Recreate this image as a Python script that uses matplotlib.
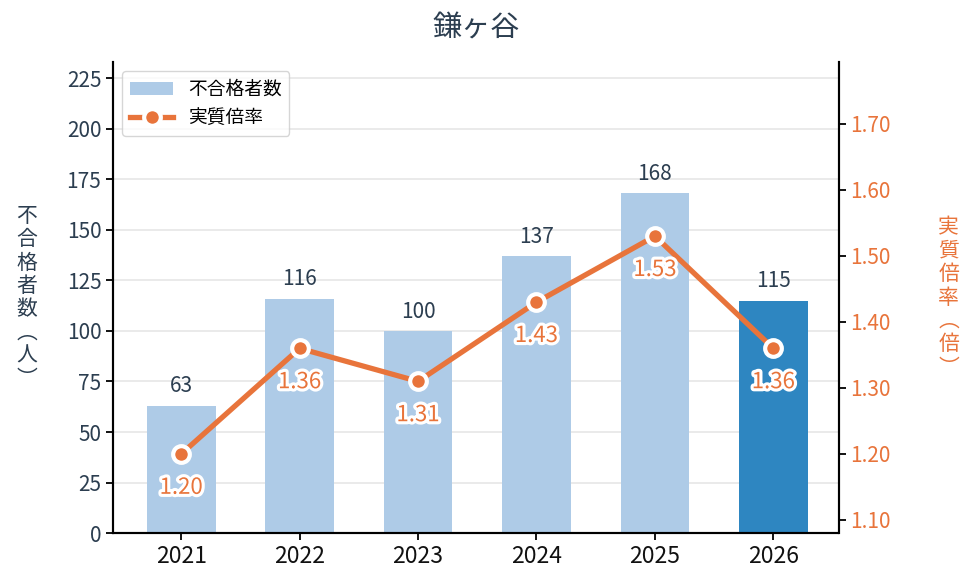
import numpy as np
import matplotlib
matplotlib.use("Agg")
import matplotlib.pyplot as plt
import matplotlib.patheffects as pe
from matplotlib.ticker import FormatStrFormatter

plt.rcParams['font.family'] = ['Noto Sans CJK JP', 'DejaVu Sans']

# data
years = ['2021', '2022', '2023', '2024', '2025', '2026']
failed = [63, 116, 100, 137, 168, 115]
ratio = [1.20, 1.36, 1.31, 1.43, 1.53, 1.36]

light_blue = '#aecbe7'
dark_blue = '#2e86c1'
orange = '#e8743b'
navy = '#2c3e50'

fig = plt.figure(figsize=(9.75, 5.84), dpi=100)
ax = fig.add_axes([0.116, 0.087, 0.744, 0.807])
ax2 = ax.twinx()

x = np.arange(len(years))
colors = [light_blue] * (len(years) - 1) + [dark_blue]
bars = ax.bar(x, failed, width=0.58, color=colors, zorder=2, label='不合格者数')
ax.bar_label(bars, labels=[str(v) for v in failed], padding=6, fontsize=15, color=navy)

ax.set_ylim(0, 233)
ax.set_yticks(np.arange(0, 226, 25))
ax.set_xlim(-0.575, 5.55)
ax.set_xticks(x)
ax.set_xticklabels(years, fontsize=16.5, color='#111111')
ax.tick_params(axis='y', labelsize=15, labelcolor=navy, length=5, width=1.3)
ax.tick_params(axis='x', length=5, width=1.3)
ax.grid(axis='y', color='#e6e6e6', linewidth=1.2, zorder=0)
ax.set_axisbelow(True)
for s in ['top']:
    ax.spines[s].set_visible(False)
    ax2.spines[s].set_visible(False)
for s in ['left', 'bottom', 'right']:
    ax2.spines[s].set_linewidth(1.5)
    ax.spines[s].set_linewidth(1.5)

line, = ax2.plot(x, ratio, color=orange, linewidth=3.8, marker='o', markersize=12,
                 markerfacecolor=orange, markeredgecolor='white', markeredgewidth=3,
                 zorder=5, label='実質倍率')
for xi, r in zip(x, ratio):
    ax2.annotate(f'{r:.2f}', (xi, r), xytext=(0, -24), textcoords='offset points',
                 ha='center', va='center', fontsize=16, fontweight='normal',
                 color=orange, zorder=6,
                 path_effects=[pe.withStroke(linewidth=4.5, foreground='white')])

ax2.set_ylim(1.08, 1.794)
ax2.set_yticks(np.arange(1.1, 1.71, 0.1))
ax2.yaxis.set_major_formatter(FormatStrFormatter('%.2f'))
ax2.tick_params(axis='y', labelsize=15, labelcolor=orange, length=5, width=1.3)

ax.text(-0.119, 0.5, '\n'.join('不合格者数︵人︶'), transform=ax.transAxes,
        ha='center', va='center', fontsize=15, color=navy, linespacing=1.08)
ax2.text(1.152, 0.5, '\n'.join('実質倍率︵倍︶'), transform=ax.transAxes,
         ha='center', va='center', fontsize=15, color=orange, linespacing=1.08)

ax.set_title('鎌ヶ谷', fontsize=21, color=navy, pad=18)

ax.legend([bars, line], ['不合格者数', '実質倍率'], loc='upper left', fontsize=13.5,
          frameon=True, edgecolor='#cccccc', fancybox=True, handlelength=2.3,
          labelspacing=0.4, borderpad=0.4)

fig.savefig('out.png', dpi=100)
